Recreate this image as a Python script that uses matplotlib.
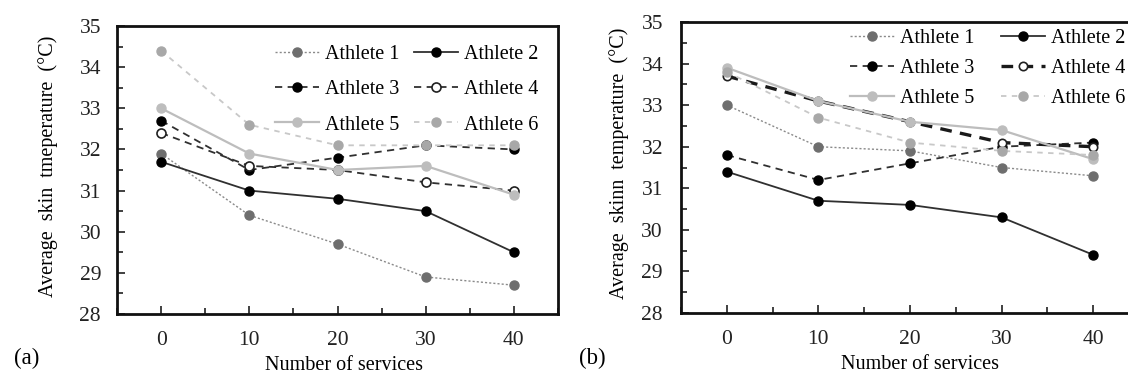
import matplotlib
matplotlib.use("Agg")
import matplotlib.pyplot as plt
from matplotlib.ticker import MultipleLocator

plt.rcParams['font.family'] = ['Liberation Serif', 'DejaVu Serif']
plt.rcParams['mathtext.fontset'] = 'stix'

services = [0, 10, 20, 30, 40]
athletes = ["Athlete 1", "Athlete 2", "Athlete 3", "Athlete 4", "Athlete 5", "Athlete 6"]

# Panel (a)
a_athlete1 = [31.9, 30.4, 29.7, 28.9, 28.7]
a_athlete2 = [31.7, 31.0, 30.8, 30.5, 29.5]
a_athlete3 = [32.7, 31.5, 31.8, 32.1, 32.0]
a_athlete4 = [32.4, 31.6, 31.5, 31.2, 31.0]
a_athlete5 = [33.0, 31.9, 31.5, 31.6, 30.9]
a_athlete6 = [34.4, 32.6, 32.1, 32.1, 32.1]

# Panel (b)
b_athlete1 = [33.0, 32.0, 31.9, 31.5, 31.3]
b_athlete2 = [31.4, 30.7, 30.6, 30.3, 29.4]
b_athlete3 = [31.8, 31.2, 31.6, 32.0, 32.1]
b_athlete4 = [33.7, 33.1, 32.6, 32.1, 32.0]
b_athlete5 = [33.9, 33.1, 32.6, 32.4, 31.7]
b_athlete6 = [33.8, 32.7, 32.1, 31.9, 31.8]

ylabel_a = "Average  skin  tmeperature  (°C)"
ylabel_b = "Average  skinn  temperature  (°C)"
xlabel = "Number of services"

FS = 14.5
TFS = 15.5
W, H = 1128, 376
fig = plt.figure(figsize=(W / 100, H / 100), dpi=100)


def px_axes(l, t, r, b):
    return fig.add_axes([l / W, 1 - b / H, (r - l) / W, (b - t) / H])


def styles(panel):
    s = [
        dict(color="#8a8a8a", ls=(0, (1.5, 1.5)), lw=1.0, marker="o", ms=6.5,
             mfc="#6e6e6e", mec="#6e6e6e"),
        dict(color="#303030", ls="-", lw=1.3, marker="o", ms=6.5,
             mfc="black", mec="black"),
        dict(color="#303030", ls=(0, (4, 3)), lw=1.3, marker="o", ms=6.5,
             mfc="black", mec="black"),
        dict(color="#303030", ls=(0, (4, 3)), lw=1.3, marker="o", ms=6.5,
             mfc="white", mec="#202020", mew=1.2),
        dict(color="#bdbdbd", ls="-", lw=1.6, marker="o", ms=6.5,
             mfc="#bdbdbd", mec="#bdbdbd"),
        dict(color="#c8c8c8", ls=(0, (3, 3)), lw=1.3, marker="o", ms=6.5,
             mfc="#a8a8a8", mec="#a8a8a8"),
    ]
    if panel == "b":
        s[3] = dict(color="#1a1a1a", ls=(0, (3.5, 2.5)), lw=2.4, marker="o", ms=6,
                    mfc="white", mec="#202020", mew=1.2)
    return s


def setup(ax, ypad, xlab_pos, ylab_pos, ylabel):
    ax.set_xlim(-5, 45)
    ax.set_ylim(28, 35)
    ax.set_xticks(services)
    ax.xaxis.set_minor_locator(MultipleLocator(5))
    ax.yaxis.set_major_locator(MultipleLocator(1))
    ax.yaxis.set_minor_locator(MultipleLocator(0.5))
    ax.tick_params(axis="both", which="both", direction="in", top=False, right=False,
                   width=1.2, color="#202020")
    ax.tick_params(axis="both", which="major", length=5.5, labelsize=TFS)
    ax.tick_params(axis="both", which="minor", length=4)
    ax.tick_params(axis="x", which="major", pad=12.5)
    ax.tick_params(axis="y", which="major", pad=ypad)
    for sp in ax.spines.values():
        sp.set_linewidth(2.0)
        sp.set_color("#111111")
    ax.set_xlabel(xlabel, fontsize=FS)
    ax.set_ylabel(ylabel, fontsize=FS)
    ax.xaxis.set_label_coords(*xlab_pos)
    ax.yaxis.set_label_coords(*ylab_pos)
    for lab in ax.get_xticklabels() + ax.get_yticklabels():
        lab.set_color("#222222")


def row_major_legend(ax, anchor, labelspacing, columnspacing):
    h, l = ax.get_legend_handles_labels()
    order = [0, 2, 4, 1, 3, 5]
    ax.legend([h[i] for i in order], [l[i] for i in order], ncol=2, frameon=False,
              fontsize=FS, loc="upper left", bbox_to_anchor=anchor,
              bbox_transform=fig.transFigure, borderpad=0, borderaxespad=0,
              handlelength=2.2, handletextpad=0.3, columnspacing=columnspacing,
              labelspacing=labelspacing)


# Panel (a)
ax1 = px_axes(117, 26, 558, 314)
data_a = [a_athlete1, a_athlete2, a_athlete3, a_athlete4, a_athlete5, a_athlete6]
for name, vals, st in zip(athletes, data_a, styles("a")):
    ax1.plot(services, vals, label=name, **st)
setup(ax1, 11.5, (0.515, -0.146), (-0.134, 0.514), ylabel_a)
row_major_legend(ax1, (275 / W, 1 - 45 / H), 0.8, 0.7)

# Panel (b)
ax2 = px_axes(681, 22, 1139, 313)
data_b = [b_athlete1, b_athlete2, b_athlete3, b_athlete4, b_athlete5, b_athlete6]
for name, vals, st in zip(athletes, data_b, styles("b")):
    ax2.plot(services, vals, label=name, **st)
setup(ax2, 13, (0.522, -0.144), (-0.1135, 0.515), ylabel_b)
row_major_legend(ax2, (850 / W, 1 - 29 / H), 0.55, 1.3)

fig.text(27 / W, 1 - 358 / H, "(a)", fontsize=16.5, ha="center", va="center")
fig.text(592 / W, 1 - 358 / H, "(b)", fontsize=16.5, ha="center", va="center")

fig.savefig("out.png", dpi=100)
